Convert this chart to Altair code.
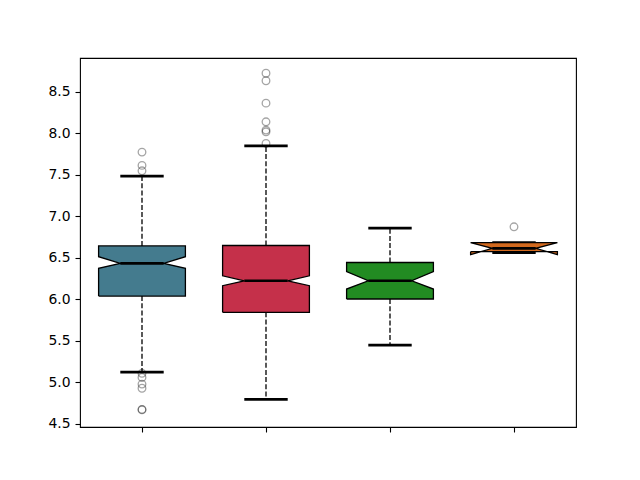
import altair as alt
import pandas as pd

# ---- data ----
positions = [1, 2, 3, 4]
colors = ["#447B8E", "#C5304A", "#228B22", "#D2691E"]
q1 = [6.035, 5.84, 6.00, 6.57]
median = [6.43, 6.22, 6.22, 6.61]
q3 = [6.64, 6.645, 6.44, 6.68]
notch_lo = [6.37, 6.16, 6.12, 6.535]
notch_hi = [6.51, 6.28, 6.33, 6.68]
whisker_lo = [5.12, 4.79, 5.445, 6.56]
whisker_hi = [7.48, 7.845, 6.855, 6.68]
outliers = [
    [7.77, 7.61, 7.545, 5.105, 5.055, 4.975, 4.925, 4.67, 4.665],
    [8.72, 8.63, 8.36, 8.135, 8.035, 8.015, 7.875],
    [],
    [6.87],
]
y_ticks = [4.5, 5.0, 5.5, 6.0, 6.5, 7.0, 7.5, 8.0, 8.5]

box_half = 0.35   # half box width (x units)
cap_half = 0.175  # half cap / notch-inset width

# ---- build tables ----
poly_rows, rule_rows, whisk_rows, pt_rows = [], [], [], []
for i, p in enumerate(positions):
    L, R = p - box_half, p + box_half
    cL, cR = p - cap_half, p + cap_half
    verts = [
        (L, q1[i]), (R, q1[i]), (R, notch_lo[i]), (cR, median[i]),
        (R, notch_hi[i]), (R, q3[i]), (L, q3[i]), (L, notch_hi[i]),
        (cL, median[i]), (L, notch_lo[i]), (L, q1[i]),
    ]
    for k, (xv, yv) in enumerate(verts):
        poly_rows.append(dict(box=i, k=k, x=xv, y=yv))
    for v in (whisker_lo[i], whisker_hi[i]):
        rule_rows.append(dict(box=i, kind="cap", y=v, xl=cL, xr=cR))
    rule_rows.append(dict(box=i, kind="median", y=median[i], xl=cL, xr=cR))
    whisk_rows.append(dict(box=i, x=p, y=q1[i], y2=whisker_lo[i]))
    whisk_rows.append(dict(box=i, x=p, y=q3[i], y2=whisker_hi[i]))
    for v in outliers[i]:
        pt_rows.append(dict(box=i, x=p, y=v))

poly_df = pd.DataFrame(poly_rows)
rule_df = pd.DataFrame(rule_rows)
whisk_df = pd.DataFrame(whisk_rows)
pt_df = pd.DataFrame(pt_rows)

xscale = alt.Scale(domain=[0.5, 4.5], nice=False, zero=False)
yscale = alt.Scale(domain=[4.458, 8.904], nice=False, zero=False)

xaxis = alt.Axis(values=positions, labels=False, title=None, grid=False,
                 domain=False, tickColor="black", tickSize=5, tickWidth=1.1)
yaxis = alt.Axis(values=y_ticks, format=".1f", title=None, grid=False,
                 domain=False, tickColor="black", tickSize=5, tickWidth=1.1,
                 labelFont="DejaVu Sans", labelFontSize=13.9, labelColor="black",
                 labelPadding=5)

whiskers = alt.Chart(whisk_df).mark_rule(
    color="black", strokeWidth=1.3, strokeDash=[5, 2.2]
).encode(
    x=alt.X("x:Q", scale=xscale, axis=xaxis),
    y=alt.Y("y:Q", scale=yscale, axis=yaxis),
    y2="y2:Q",
)

caps = alt.Chart(rule_df[rule_df.kind == "cap"]).mark_rule(
    color="black", strokeWidth=2.7
).encode(
    x=alt.X("xl:Q", scale=xscale),
    x2="xr:Q",
    y=alt.Y("y:Q", scale=yscale),
)

box_layers = []
for i in range(len(positions)):
    box_layers.append(
        alt.Chart(poly_df[poly_df.box == i]).mark_line(
            fill=colors[i], stroke="black", strokeWidth=1.3, interpolate="linear",
            strokeJoin="miter"
        ).encode(
            x=alt.X("x:Q", scale=xscale),
            y=alt.Y("y:Q", scale=yscale),
            order=alt.Order("k:Q"),
        )
    )

medians = alt.Chart(rule_df[rule_df.kind == "median"]).mark_rule(
    color="black", strokeWidth=2.7
).encode(
    x=alt.X("xl:Q", scale=xscale),
    x2="xr:Q",
    y=alt.Y("y:Q", scale=yscale),
)

fliers = alt.Chart(pt_df).mark_point(
    shape="circle", filled=False, size=58, stroke="black",
    strokeOpacity=0.5, strokeWidth=1.3
).encode(
    x=alt.X("x:Q", scale=xscale),
    y=alt.Y("y:Q", scale=yscale),
)

chart = alt.layer(whiskers, caps, *box_layers, medians, fliers).properties(
    width=496, height=369,
    autosize=alt.AutoSizeParams(type="none"),
    padding={"left": 72, "top": 50, "right": 48, "bottom": 40},
    background="white",
).configure_view(
    stroke="black", strokeWidth=1.1
)

chart.save("out.html", embed_options={"renderer": "svg", "actions": False})
